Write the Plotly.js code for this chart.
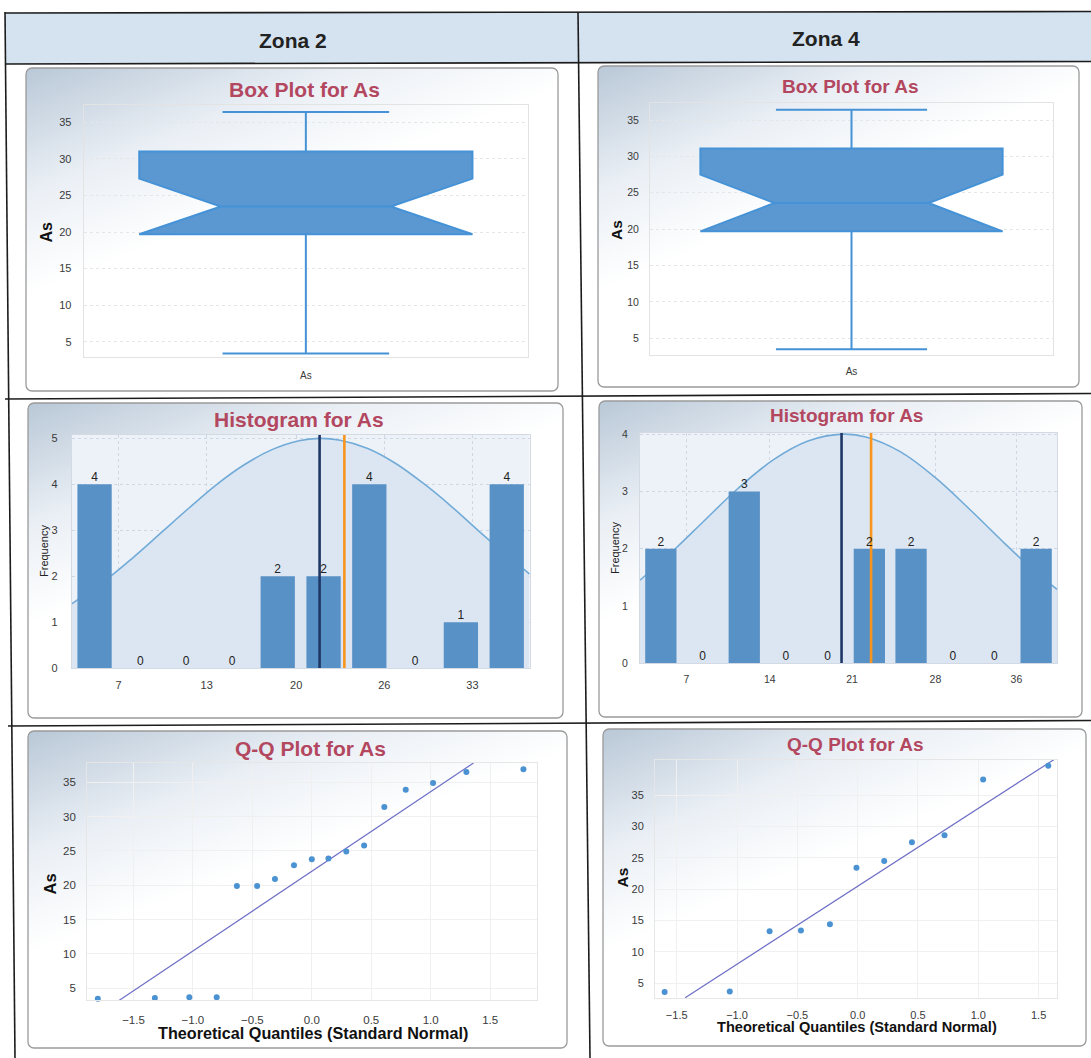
<!DOCTYPE html>
<html><head><meta charset="utf-8">
<script src="https://cdn.plot.ly/plotly-3.0.1.min.js"></script>
<style>html,body{margin:0;padding:0;background:#fff}#chart{width:1091px;height:1058px}</style>
</head><body><div id="chart"></div>
<script>
// ---------------- data ----------------
const zoneNames = ['Zona 2', 'Zona 4'];
const panelTitles = ['Box Plot for As', 'Histogram for As', 'Q-Q Plot for As'];
const boxCategory = ['As'];
const boxTicks = [5, 10, 15, 20, 25, 30, 35];
// lower whisker, Q1, median, Q3, upper whisker
const z2BoxStats = [3.4, 19.7, 23.5, 31.0, 36.4];
const z4BoxStats = [3.5, 19.7, 23.6, 31.1, 36.4];
const z2BoxNotch = [3.8];
const z4BoxNotch = [3.9];

const histYTicksZ2 = [0, 1, 2, 3, 4, 5];
const histYTicksZ4 = [0, 1, 2, 3, 4];
const z2HistCenters = [5.16, 8.49, 11.81, 15.14, 18.46, 21.79, 25.11, 28.44, 31.76, 35.09];
const z2HistCounts = [4, 0, 0, 0, 2, 2, 4, 0, 1, 4];
const z2HistTickVals = [6.9, 13.3, 19.8, 26.2, 32.6];
const z2HistTickText = ['7', '13', '20', '26', '33'];
const z2CurveX = [3.5, 6.4, 8.0, 10.0, 12.0, 14.0, 16.0, 18.0, 20.0, 21.5, 23.0, 25.0, 27.0, 29.0, 31.0, 33.0, 34.0, 36.75];
const z2CurveY = [1.40, 2.02, 2.42, 2.95, 3.48, 3.99, 4.42, 4.75, 4.95, 5.00, 4.96, 4.78, 4.46, 4.03, 3.54, 3.00, 2.74, 2.05];
const z2MeanMedian = [21.5, 23.3];

const z4HistCenters = [5.3, 8.9, 12.5, 16.1, 19.7, 23.3, 26.9, 30.5, 34.1, 37.7];
const z4HistCounts = [2, 0, 3, 0, 0, 2, 2, 0, 0, 2];
const z4HistTickVals = [7.5, 14.7, 21.8, 29.0, 36.0];
const z4HistTickText = ['7', '14', '21', '28', '36'];
const z4CurveX = [3.5, 6.7, 9.0, 12.0, 15.0, 18.0, 21.0, 23.0, 26.0, 29.0, 32.0, 35.0, 37.0, 39.5];
const z4CurveY = [1.45, 2.03, 2.48, 3.06, 3.55, 3.88, 4.00, 3.95, 3.69, 3.24, 2.68, 2.09, 1.71, 1.29];
const z4MeanMedian = [20.9, 23.45];

const qqYTicks = [5, 10, 15, 20, 25, 30, 35];
const z2QQx = [-1.80, -1.32, -1.03, -0.80, -0.63, -0.46, -0.31, -0.15, 0.00, 0.14, 0.29, 0.44, 0.61, 0.79, 1.02, 1.30, 1.78];
const z2QQy = [3.5, 3.6, 3.7, 3.7, 19.9, 19.9, 20.9, 22.9, 23.8, 23.9, 24.9, 25.8, 31.4, 33.9, 34.9, 36.5, 36.9];
const z2LineX = [-1.65, 1.36];
const z2LineY = [2.9, 37.8];
const z4QQx = [-1.60, -1.06, -0.73, -0.47, -0.23, -0.01, 0.22, 0.45, 0.72, 1.04, 1.58];
const z4QQy = [3.6, 3.7, 13.3, 13.4, 14.4, 23.4, 24.5, 27.5, 28.6, 37.5, 39.7];
const z4LineX = [-1.43, 1.63];
const z4LineY = [2.7, 40.7];

// ---------------- helpers ----------------
const W = 1091, H = 1058;
const X = p => p / W;
const Y = p => 1 - p / H;
const FAM = 'Liberation Sans, Arial, sans-serif';
const tf = s => ({family: FAM, size: s, color: '#3a3a3a'});
const domX = (a, b) => [X(a), X(b)];
const domY = (top, bot) => [Y(bot), Y(top)];

const BOX_FILL = '#5b98d2', BOX_LINE = '#4592d6';
const BAR = '#5891c6';
const TITLE_C = '#b3475f';

function baseAx(extra) {
  return Object.assign({zeroline: false, showline: true, mirror: true, linewidth: 1,
    ticks: '', fixedrange: true}, extra);
}

// ---------------- traces ----------------
const traces = [];
function boxTrace(stats, notch, xa, ya) {
  return {type: 'box', xaxis: xa, yaxis: ya, x: boxCategory,
    lowerfence: [stats[0]], q1: [stats[1]], median: [stats[2]], q3: [stats[3]], upperfence: [stats[4]],
    notched: true, notchspan: notch, notchwidth: 0.245, width: 0.75, whiskerwidth: 0.5,
    boxpoints: false, fillcolor: BOX_FILL, line: {color: BOX_LINE, width: 2}, hoverinfo: 'skip'};
}
traces.push(boxTrace(z2BoxStats, z2BoxNotch, 'x', 'y'));
traces.push(boxTrace(z4BoxStats, z4BoxNotch, 'x2', 'y2'));

// curve (with fill) on the base subplot, bars / lines / labels on an overlaying y axis so they sit on top
function histTraces(cx, cy, centers, counts, mm, xa, yaBase, yaTop) {
  return [
    {type: 'scatter', mode: 'lines', x: cx, y: cy, xaxis: xa, yaxis: yaBase, fill: 'tozeroy',
      fillcolor: '#dce6f2', line: {color: '#72abd8', width: 1.6, shape: 'spline'}, hoverinfo: 'skip'},
    {type: 'bar', x: centers, y: counts, xaxis: xa, yaxis: yaTop, marker: {color: BAR, line: {width: 0}}, hoverinfo: 'skip'},
    {type: 'scatter', mode: 'lines', x: [mm[0], mm[0]], y: [0, 10], xaxis: xa, yaxis: yaTop,
      line: {color: '#1f3766', width: 2.6}, hoverinfo: 'skip'},
    {type: 'scatter', mode: 'lines', x: [mm[1], mm[1]], y: [0, 10], xaxis: xa, yaxis: yaTop,
      line: {color: '#f7951e', width: 2.6}, hoverinfo: 'skip'},
    {type: 'scatter', mode: 'text', x: centers, y: counts, text: counts.map(String), xaxis: xa, yaxis: yaTop,
      textposition: 'top center', textfont: {family: FAM, size: 12, color: '#222'}, cliponaxis: false, hoverinfo: 'skip'}
  ];
}
traces.push(...histTraces(z2CurveX, z2CurveY, z2HistCenters, z2HistCounts, z2MeanMedian, 'x3', 'y3', 'y7'));
traces.push(...histTraces(z4CurveX, z4CurveY, z4HistCenters, z4HistCounts, z4MeanMedian, 'x4', 'y4', 'y8'));

function qqTraces(qx, qy, lx, ly, xa, ya) {
  return [
    {type: 'scatter', mode: 'lines', x: lx, y: ly, xaxis: xa, yaxis: ya,
      line: {color: '#6d6fc6', width: 1.2}, hoverinfo: 'skip'},
    {type: 'scatter', mode: 'markers', x: qx, y: qy, xaxis: xa, yaxis: ya,
      marker: {color: '#4b92d2', size: 6}, cliponaxis: false, hoverinfo: 'skip'}
  ];
}
traces.push(...qqTraces(z2QQx, z2QQy, z2LineX, z2LineY, 'x5', 'y5'));
traces.push(...qqTraces(z4QQx, z4QQy, z4LineX, z4LineY, 'x6', 'y6'));

// ---------------- layout ----------------
const z2HistRange = [0, 5.08];
const z4HistRange = [0, 4.02];
const layout = {
  width: W, height: H, margin: {l: 0, r: 0, t: 0, b: 0},
  paper_bgcolor: '#ffffff', plot_bgcolor: 'rgba(0,0,0,0)', showlegend: false, bargap: 0.25,
  font: {family: FAM},
  xaxis: baseAx({domain: domX(83.7, 528), anchor: 'y', type: 'category', range: [-0.5, 0.5],
    showgrid: false, linecolor: '#e3e3e3', tickfont: tf(10), ticklabelstandoff: 9}),
  yaxis: baseAx({domain: domY(105, 356.7), anchor: 'x', range: [2.95, 37.37], tickvals: boxTicks,
    showgrid: true, gridcolor: '#e6e6e6', griddash: 'dot', linecolor: '#e3e3e3', tickfont: tf(11), ticklabelstandoff: 9}),
  xaxis2: baseAx({domain: domX(650, 1053), anchor: 'y2', type: 'category', range: [-0.5, 0.5],
    showgrid: false, linecolor: '#e3e3e3', tickfont: tf(10), ticklabelstandoff: 7}),
  yaxis2: baseAx({domain: domY(103, 355), anchor: 'x2', range: [2.71, 37.34], tickvals: boxTicks,
    showgrid: true, gridcolor: '#e6e6e6', griddash: 'dot', linecolor: '#e3e3e3', tickfont: tf(10.5), ticklabelstandoff: 8}),
  xaxis3: baseAx({domain: domX(71.7, 529.6), anchor: 'y3', range: [3.5, 36.75], tickvals: z2HistTickVals, ticktext: z2HistTickText,
    showgrid: true, gridcolor: '#cfd7e2', griddash: 'dot', linecolor: '#d3dae4', tickfont: tf(11), ticklabelstandoff: 6}),
  yaxis3: baseAx({domain: domY(434.7, 668.3), anchor: 'x3', range: z2HistRange, tickvals: histYTicksZ2,
    showgrid: true, gridcolor: '#cfd7e2', griddash: 'dot', linecolor: '#d3dae4', tickfont: tf(11), ticklabelstandoff: 11}),
  yaxis7: {overlaying: 'y3', anchor: 'x3', range: z2HistRange, visible: false, fixedrange: true},
  xaxis4: baseAx({domain: domX(640, 1057), anchor: 'y4', range: [3.5, 39.5], tickvals: z4HistTickVals, ticktext: z4HistTickText,
    showgrid: true, gridcolor: '#cfd7e2', griddash: 'dot', linecolor: '#d3dae4', tickfont: tf(10.5), ticklabelstandoff: 6}),
  yaxis4: baseAx({domain: domY(433, 663.3), anchor: 'x4', range: z4HistRange, tickvals: histYTicksZ4,
    showgrid: true, gridcolor: '#cfd7e2', griddash: 'dot', linecolor: '#d3dae4', tickfont: tf(10.5), ticklabelstandoff: 9}),
  yaxis8: {overlaying: 'y4', anchor: 'x4', range: z4HistRange, visible: false, fixedrange: true},
  xaxis5: baseAx({domain: domX(87.1, 536.5), anchor: 'y5', range: [-1.89, 1.89], tick0: 0, dtick: 0.5, tickformat: '.1f',
    showgrid: true, gridcolor: '#f0f0f0', linecolor: '#e6e6e6', tickfont: tf(11.5), ticklabelstandoff: 9}),
  yaxis5: baseAx({domain: domY(763, 1000), anchor: 'x5', range: [3.3, 37.8], tickvals: qqYTicks,
    showgrid: true, gridcolor: '#f0f0f0', linecolor: '#e6e6e6', tickfont: tf(11.5), ticklabelstandoff: 8}),
  xaxis6: baseAx({domain: domX(655, 1056.7), anchor: 'y6', range: [-1.68, 1.65], tick0: 0, dtick: 0.5, tickformat: '.1f',
    showgrid: true, gridcolor: '#f0f0f0', linecolor: '#e6e6e6', tickfont: tf(11), ticklabelstandoff: 6}),
  yaxis6: baseAx({domain: domY(760, 998.3), anchor: 'x6', range: [2.6, 40.6], tickvals: qqYTicks,
    showgrid: true, gridcolor: '#f0f0f0', linecolor: '#e6e6e6', tickfont: tf(11), ticklabelstandoff: 8})
};

// table lines and header fill
const lineSt = {color: '#1c1c1c', width: 1.6};
const seg = (x0, y0, x1, y1) => ({type: 'line', xref: 'paper', yref: 'paper', x0: X(x0), y0: Y(y0), x1: X(x1), y1: Y(y1), line: lineSt});
layout.shapes = [
  {type: 'path', xref: 'paper', yref: 'paper', layer: 'below', line: {width: 0}, fillcolor: '#d5e3f0',
    path: `M${X(5)},${Y(13)} L${X(1091)},${Y(11.5)} L${X(1091)},${Y(61.5)} L${X(5)},${Y(64)} Z`},
  {type: 'rect', xref: 'x3', yref: 'y3', x0: 3.5, x1: 36.75, y0: 0, y1: 5.08, layer: 'below', fillcolor: '#edf2f8', line: {width: 0}},
  {type: 'rect', xref: 'x4', yref: 'y4', x0: 3.5, x1: 39.5, y0: 0, y1: 4.02, layer: 'below', fillcolor: '#edf2f8', line: {width: 0}},
  seg(5, 13, 1091, 11.5),
  seg(5, 64, 1091, 61.5),
  seg(5, 399, 1091, 393.5),
  seg(8, 726, 1091, 720.5),
  seg(5, 12, 15, 1058),
  seg(578, 12, 590, 1058)
];

// panel backgrounds (rounded, with soft gradient)
function panelSvg(w, h) {
  return `<svg xmlns="http://www.w3.org/2000/svg" width="${w}" height="${h}" viewBox="0 0 ${w} ${h}">` +
    `<defs><linearGradient id="g" x1="0" y1="0" x2="0.32" y2="0.5">` +
    `<stop offset="0" stop-color="#b9c8d7"/><stop offset="0.55" stop-color="#eaeff5"/><stop offset="1" stop-color="#ffffff"/>` +
    `</linearGradient></defs>` +
    `<rect x="1" y="1" width="${w - 2}" height="${h - 2}" rx="6" ry="6" fill="url(#g)" stroke="#9a9a9a" stroke-width="1.3"/></svg>`;
}
function panelImg(x0, y0, x1, y1) {
  const w = Math.round(x1 - x0), h = Math.round(y1 - y0);
  return {source: 'data:image/svg+xml;charset=utf-8,' + encodeURIComponent(panelSvg(w, h)),
    xref: 'paper', yref: 'paper', x: X(x0), y: Y(y0), sizex: (x1 - x0) / W, sizey: (y1 - y0) / H,
    xanchor: 'left', yanchor: 'top', sizing: 'stretch', layer: 'below'};
}
layout.images = [
  panelImg(25, 67, 559, 392), panelImg(597, 65, 1080, 388),
  panelImg(27, 402, 564, 719), panelImg(598, 400, 1083, 718),
  panelImg(27, 730, 568, 1049), panelImg(602, 728, 1087, 1047)
];

// text annotations
const ann = (txt, x, y, size, color, bold, angle) => ({text: bold ? '<b>' + txt + '</b>' : txt,
  xref: 'paper', yref: 'paper', x: X(x), y: Y(y), xanchor: 'center', yanchor: 'middle', showarrow: false,
  textangle: angle || 0, font: {family: FAM, size: size, color: color}});
layout.annotations = [
  ann(zoneNames[0], 293, 40.5, 21, '#222', true),
  ann(zoneNames[1], 826, 38.5, 21, '#222', true),
  ann(panelTitles[0], 304, 89, 21, TITLE_C, true),
  ann(panelTitles[0], 850, 86.5, 19, TITLE_C, true),
  ann(panelTitles[1], 299, 419, 21, TITLE_C, true),
  ann(panelTitles[1], 846, 415.5, 19, TITLE_C, true),
  ann(panelTitles[2], 310, 748, 21, TITLE_C, true),
  ann(panelTitles[2], 855, 744, 19, TITLE_C, true),
  ann('As', 46, 231.5, 16, '#111', true, -90),
  ann('As', 617, 230, 15.5, '#111', true, -90),
  ann('Frequency', 43.5, 551.5, 11, '#222', false, -90),
  ann('Frequency', 615, 548, 11, '#222', false, -90),
  ann('As', 49.5, 884, 16.5, '#111', true, -90),
  ann('As', 621.5, 878, 15.5, '#111', true, -90),
  ann('Theoretical Quantiles (Standard Normal)', 312.5, 1033, 16.2, '#111', true),
  ann('Theoretical Quantiles (Standard Normal)', 856.5, 1026.5, 14.6, '#111', true)
];

Plotly.newPlot('chart', traces, layout, {staticPlot: true, displayModeBar: false});
</script>
</body></html>
